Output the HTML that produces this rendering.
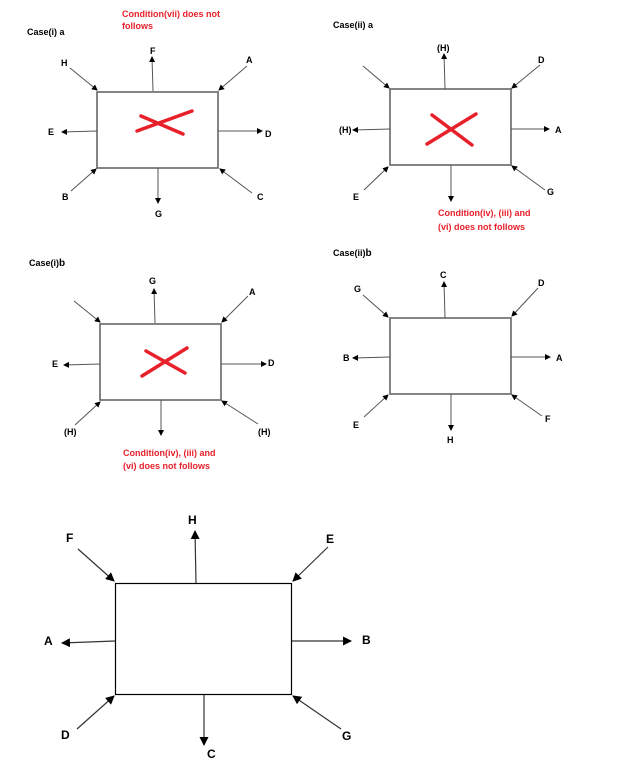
<!DOCTYPE html>
<html><head><meta charset="utf-8"><style>
html,body{margin:0;padding:0;background:#fff;}
svg{display:block;}
text{font-family:"Liberation Sans",sans-serif;font-weight:bold;}
.s{font-size:9px;fill:#000;}
.r{font-size:9px;fill:#e8202a;}
.b{font-size:12px;fill:#000;}
.l{stroke:#555;stroke-width:1;fill:none;}
.bx{stroke:#666;stroke-width:1.6;fill:none;}
.x{stroke:#e8202a;stroke-width:3.5;stroke-linecap:round;}
</style></head><body>
<svg width="624" height="770" viewBox="0 0 624 770" xmlns="http://www.w3.org/2000/svg">
<defs>
<marker id="a" markerWidth="6" markerHeight="6" refX="5" refY="3" orient="auto" markerUnits="userSpaceOnUse"><path d="M0,0 L6,3 L0,6 z" fill="#000"/></marker>
<marker id="A" markerWidth="9" markerHeight="9" refX="8" refY="4.5" orient="auto" markerUnits="userSpaceOnUse"><path d="M0,0 L9,4.5 L0,9 z" fill="#000"/></marker>
</defs>

<!-- Case(i)a -->
<text class="s" x="27" y="35">Case(i) a</text>
<text class="r" x="122" y="17">Condition(vii) does not</text>
<text class="r" x="122" y="29">follows</text>
<rect class="bx" x="97" y="92" width="121" height="76"/>
<line class="x" x1="137" y1="131" x2="192" y2="111"/>
<line class="x" x1="141" y1="116" x2="183" y2="134"/>
<g class="l" marker-end="url(#a)">
<line x1="153" y1="91" x2="152" y2="57"/>
<line x1="70" y1="68" x2="97" y2="90"/>
<line x1="247" y1="66" x2="219" y2="90"/>
<line x1="97" y1="131" x2="62" y2="132"/>
<line x1="218" y1="131" x2="262" y2="131"/>
<line x1="71" y1="191" x2="96" y2="169"/>
<line x1="158" y1="168" x2="158" y2="203"/>
<line x1="252" y1="193" x2="220" y2="169"/>
</g>
<text class="s" x="150" y="54">F</text>
<text class="s" x="61" y="66">H</text>
<text class="s" x="246" y="63">A</text>
<text class="s" x="48" y="135">E</text>
<text class="s" x="265" y="137">D</text>
<text class="s" x="62" y="200">B</text>
<text class="s" x="155" y="217">G</text>
<text class="s" x="257" y="200">C</text>

<!-- Case(ii)a -->
<text class="s" x="333" y="28">Case(ii) a</text>
<rect class="bx" x="390" y="89" width="121" height="76"/>
<line class="x" x1="427" y1="144" x2="476" y2="114"/>
<line class="x" x1="432" y1="115" x2="472" y2="145"/>
<g class="l" marker-end="url(#a)">
<line x1="445" y1="89" x2="444" y2="54"/>
<line x1="363" y1="66" x2="389" y2="88"/>
<line x1="540" y1="65" x2="512" y2="88"/>
<line x1="390" y1="129" x2="353" y2="130"/>
<line x1="511" y1="129" x2="549" y2="129"/>
<line x1="364" y1="190" x2="388" y2="167"/>
<line x1="545" y1="190" x2="512" y2="166"/>
<line x1="451" y1="165" x2="451" y2="201"/>
</g>
<text class="s" x="437" y="51">(H)</text>
<text class="s" x="538" y="63">D</text>
<text class="s" x="339" y="133">(H)</text>
<text class="s" x="555" y="133">A</text>
<text class="s" x="353" y="200">E</text>
<text class="s" x="547" y="195">G</text>
<text class="r" x="438" y="216">Condition(iv), (iii) and</text>
<text class="r" x="438" y="230">(vi) does not follows</text>

<!-- Case(i)b -->
<text class="s" x="29" y="266">Case(i)<tspan font-size="10">b</tspan></text>
<rect class="bx" x="100" y="324" width="121" height="76"/>
<line class="x" x1="142" y1="376" x2="187" y2="348"/>
<line class="x" x1="146" y1="351" x2="185" y2="373"/>
<g class="l" marker-end="url(#a)">
<line x1="155" y1="323" x2="154" y2="289"/>
<line x1="74" y1="301" x2="100" y2="322"/>
<line x1="248" y1="296" x2="222" y2="322"/>
<line x1="100" y1="364" x2="64" y2="365"/>
<line x1="221" y1="364" x2="266" y2="364"/>
<line x1="75" y1="425" x2="100" y2="402"/>
<line x1="258" y1="424" x2="222" y2="401"/>
<line x1="161" y1="400" x2="161" y2="435"/>
</g>
<text class="s" x="149" y="284">G</text>
<text class="s" x="249" y="295">A</text>
<text class="s" x="52" y="367">E</text>
<text class="s" x="268" y="366">D</text>
<text class="s" x="64" y="435">(H)</text>
<text class="s" x="258" y="435">(H)</text>
<text class="r" x="123" y="456">Condition(iv), (iii) and</text>
<text class="r" x="123" y="469">(vi) does not follows</text>

<!-- Case(ii)b -->
<text class="s" x="333" y="256">Case(ii)<tspan font-size="10">b</tspan></text>
<rect class="bx" x="390" y="318" width="121" height="76"/>
<g class="l" marker-end="url(#a)">
<line x1="445" y1="318" x2="444" y2="282"/>
<line x1="363" y1="295" x2="388" y2="317"/>
<line x1="538" y1="288" x2="512" y2="316"/>
<line x1="390" y1="357" x2="353" y2="358"/>
<line x1="511" y1="357" x2="550" y2="357"/>
<line x1="364" y1="417" x2="388" y2="395"/>
<line x1="542" y1="416" x2="512" y2="395"/>
<line x1="451" y1="394" x2="451" y2="430"/>
</g>
<text class="s" x="440" y="278">C</text>
<text class="s" x="354" y="292">G</text>
<text class="s" x="538" y="286">D</text>
<text class="s" x="343" y="361">B</text>
<text class="s" x="556" y="361">A</text>
<text class="s" x="353" y="428">E</text>
<text class="s" x="545" y="422">F</text>
<text class="s" x="447" y="443">H</text>

<!-- Big -->
<rect x="115.5" y="583.5" width="176" height="111" fill="none" stroke="#000" stroke-width="1.2"/>
<g stroke="#333" stroke-width="1.2" fill="none" marker-end="url(#A)">
<line x1="196" y1="583" x2="195" y2="531"/>
<line x1="78" y1="549" x2="114" y2="581"/>
<line x1="328" y1="547" x2="293" y2="581"/>
<line x1="115" y1="641" x2="62" y2="643"/>
<line x1="292" y1="641" x2="351" y2="641"/>
<line x1="77" y1="729" x2="114" y2="696"/>
<line x1="341" y1="729" x2="293" y2="696"/>
<line x1="204" y1="695" x2="204" y2="745"/>
</g>
<text class="b" x="188" y="524">H</text>
<text class="b" x="66" y="542">F</text>
<text class="b" x="326" y="543">E</text>
<text class="b" x="44" y="645">A</text>
<text class="b" x="362" y="644">B</text>
<text class="b" x="61" y="739">D</text>
<text class="b" x="342" y="740">G</text>
<text class="b" x="207" y="758">C</text>
</svg>
</body></html>
